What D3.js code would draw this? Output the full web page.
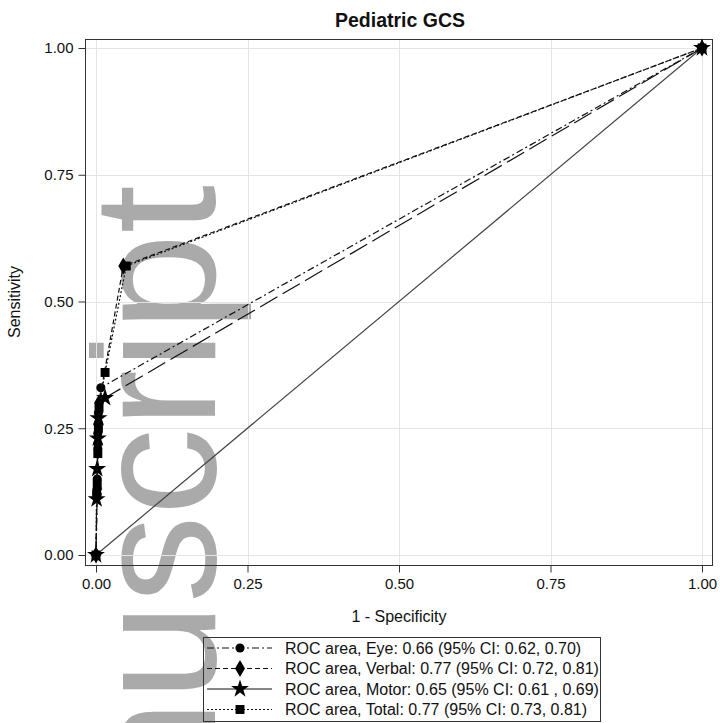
<!DOCTYPE html>
<html>
<head>
<meta charset="utf-8">
<script src="https://cdn.jsdelivr.net/npm/d3@7"></script>
<style>
  body { margin: 0; background: #fff; }
  text { font-family: "Liberation Sans", Arial, sans-serif; }
</style>
</head>
<body>
<svg id="chart" width="720" height="723"></svg>
<script>
// ROC points, x = 1 - specificity, y = sensitivity
let eyeX = [0, 0.002, 0.002, 0.003, 0.003, 0.004, 0.008, 1];
let eyeY = [0, 0.12, 0.15, 0.21, 0.24, 0.28, 0.33, 1];
let verbalX = [0, 0.002, 0.003, 0.004, 0.005, 0.045, 1];
let verbalY = [0, 0.13, 0.22, 0.26, 0.30, 0.57, 1];
let motorX = [0, 0.001, 0.002, 0.003, 0.004, 0.015, 1];
let motorY = [0, 0.11, 0.17, 0.23, 0.27, 0.31, 1];
let totalX = [0, 0.001, 0.002, 0.003, 0.004, 0.005, 0.015, 0.05, 1];
let totalY = [0, 0.12, 0.14, 0.20, 0.25, 0.29, 0.36, 0.57, 1];

let ticks = [0, 0.25, 0.5, 0.75, 1];
let legendLabels = [
  "ROC area, Eye: 0.66 (95% CI: 0.62, 0.70)",
  "ROC area, Verbal: 0.77 (95% CI: 0.72, 0.81)",
  "ROC area, Motor: 0.65 (95% CI: 0.61 , 0.69)",
  "ROC area, Total: 0.77 (95% CI: 0.73, 0.81)"
];

let svg = d3.select("#chart");

let frame = {left: 85.5, right: 712.5, top: 39.5, bottom: 565.5};
let x = d3.scaleLinear().domain([0, 1]).range([96, 702]);
let y = d3.scaleLinear().domain([0, 1]).range([555, 48]);

svg.append("rect").attr("width", 720).attr("height", 723).attr("fill", "#fff");

// watermark
svg.append("text")
  .attr("transform", "translate(215,185) rotate(-90)")
  .attr("text-anchor", "end")
  .attr("font-size", 175)
  .attr("fill", "#aaaaaa")
  .text("Manuscript");

// grid
let grid = svg.append("g").attr("stroke", "#e4e4e4").attr("stroke-width", 1);
ticks.forEach(function(t) {
  grid.append("line").attr("x1", Math.round(x(t)) + 0.5).attr("x2", Math.round(x(t)) + 0.5)
    .attr("y1", frame.top).attr("y2", frame.bottom);
  grid.append("line").attr("y1", Math.round(y(t)) + 0.5).attr("y2", Math.round(y(t)) + 0.5)
    .attr("x1", frame.left).attr("x2", frame.right);
});

// axes
let xAxis = svg.append("g").attr("transform", "translate(0," + frame.bottom + ")")
  .call(d3.axisBottom(x).tickValues(ticks).tickFormat(d3.format(".2f")).tickSize(7).tickPadding(6));
let yAxis = svg.append("g").attr("transform", "translate(" + frame.left + ",0)")
  .call(d3.axisLeft(y).tickValues(ticks).tickFormat(d3.format(".2f")).tickSize(7).tickPadding(5));
[xAxis, yAxis].forEach(function(a) {
  a.select(".domain").remove();
  a.selectAll("line").attr("stroke", "#333");
  a.selectAll("text").attr("font-size", 15).attr("fill", "#111")
    .attr("font-family", "Liberation Sans, Arial, sans-serif");
});

svg.append("rect")
  .attr("x", frame.left).attr("y", frame.top)
  .attr("width", frame.right - frame.left).attr("height", frame.bottom - frame.top)
  .attr("fill", "none").attr("stroke", "#333");

// diagonal reference
svg.append("line")
  .attr("x1", x(0)).attr("y1", y(0)).attr("x2", x(1)).attr("y2", y(1))
  .attr("stroke", "#444").attr("stroke-width", 1.2);

let series = [
  {xs: eyeX, ys: eyeY, dash: "7,3,2,3", symbol: d3.symbolCircle, size: 65},
  {xs: verbalX, ys: verbalY, dash: "5,3", symbol: d3.symbolDiamond, size: 85},
  {xs: motorX, ys: motorY, dash: "20,6", symbol: d3.symbolStar, size: 100},
  {xs: totalX, ys: totalY, dash: "2,2", symbol: d3.symbolSquare, size: 80}
];

let line = d3.line().x(function(d) { return x(d[0]); }).y(function(d) { return y(d[1]); });

series.forEach(function(s) {
  let pts = s.xs.map(function(v, i) { return [v, s.ys[i]]; });
  svg.append("path").datum(pts)
    .attr("d", line)
    .attr("fill", "none")
    .attr("stroke", "#111")
    .attr("stroke-width", 1.2)
    .attr("stroke-dasharray", s.dash);
  svg.selectAll(null).data(pts).enter().append("path")
    .attr("transform", function(d) { return "translate(" + x(d[0]) + "," + y(d[1]) + ")"; })
    .attr("d", d3.symbol().type(s.symbol).size(s.size))
    .attr("fill", "#000");
});

// titles
svg.append("text").attr("x", 400).attr("y", 27).attr("text-anchor", "middle")
  .attr("font-size", 19.5).attr("font-weight", "bold").attr("fill", "#111").text("Pediatric GCS");
svg.append("text").attr("x", 399).attr("y", 622).attr("text-anchor", "middle")
  .attr("font-size", 16).attr("fill", "#111").text("1 - Specificity");
svg.append("text").attr("transform", "translate(20,302) rotate(-90)").attr("text-anchor", "middle")
  .attr("font-size", 16).attr("fill", "#111").text("Sensitivity");

// legend
let legend = svg.append("g");
legend.append("rect").attr("x", 203.5).attr("y", 637.5).attr("width", 397).attr("height", 84)
  .attr("fill", "none").attr("stroke", "#333");
series.forEach(function(s, i) {
  let ly = 648 + i * 20.5;
  legend.append("line").attr("x1", 207).attr("x2", 272).attr("y1", ly).attr("y2", ly)
    .attr("stroke", "#111").attr("stroke-width", 1.2)
    .attr("stroke-dasharray", i === 2 ? null : s.dash);
  legend.append("path").attr("transform", "translate(240," + ly + ")")
    .attr("d", d3.symbol().type(s.symbol).size(s.size)).attr("fill", "#000");
  legend.append("text").attr("x", 285).attr("y", ly + 5.5).attr("font-size", 16)
    .attr("fill", "#111").text(legendLabels[i]);
});
</script>
</body>
</html>
